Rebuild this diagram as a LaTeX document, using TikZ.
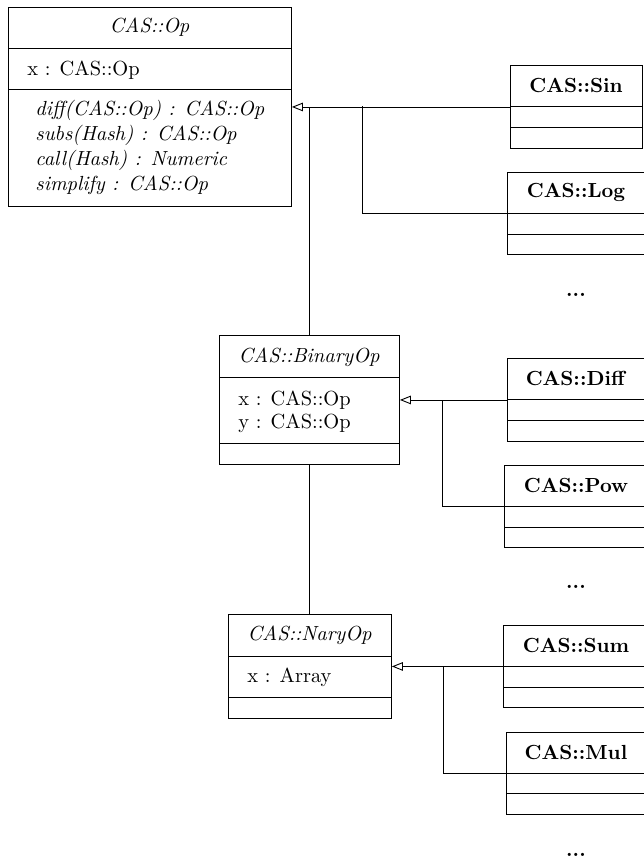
\documentclass[tikz,border=0pt]{standalone}
\usetikzlibrary{arrows.meta}
\newdimen\px \px=0.49pt
\begin{document}
\begin{tikzpicture}[x=0.49pt,y=-0.49pt,
  box/.style={draw, rectangle, anchor=north west, inner sep=0pt, line width=0.45pt},
  sepline/.style={line width=0.45pt},
  txt/.style={inner sep=0pt, anchor=west},
  ctxt/.style={inner sep=0pt},
  inh/.style={line width=0.45pt, -{Triangle[open,length=5.4pt,width=4.2pt]}},
  conn/.style={line width=0.45pt}]
\useasboundingbox (0,0) rectangle (643,862);

% ---- CAS::Op
\node[box, minimum width=283\px, minimum height=199\px] (op) at (8,7) {};
\draw[sepline] (8,48) -- (291,48);
\draw[sepline] (8,89) -- (291,89);
\node[ctxt] (opt) at (149.5,27) {\textit{CAS::Op}};
\node[txt] (opa) at (27,70) {x : CAS::Op};
\node[txt] (opm1) at (35,110) {\textit{diff(CAS::Op) : CAS::Op}};
\node[txt] (opm2) at (35,135) {\textit{subs(Hash) : CAS::Op}};
\node[txt] (opm3) at (35,160) {\textit{call(Hash) : Numeric}};
\node[txt] (opm4) at (35,185) {\textit{simplify : CAS::Op}};

% ---- CAS::BinaryOp
\node[box, minimum width=180\px, minimum height=129\px] (bin) at (219,335) {};
\draw[sepline] (219,377) -- (399,377);
\draw[sepline] (219,443) -- (399,443);
\node[ctxt] (bint) at (309,357) {\textit{CAS::BinaryOp}};
\node[txt] (bina1) at (238,400) {x : CAS::Op};
\node[txt] (bina2) at (238,423) {y : CAS::Op};

% ---- CAS::NaryOp
\node[box, minimum width=163\px, minimum height=104\px] (nary) at (228,614) {};
\draw[sepline] (228,656) -- (391,656);
\draw[sepline] (228,697) -- (391,697);
\node[ctxt] (naryt) at (309.5,635) {\textit{CAS::NaryOp}};
\node[txt] (narya) at (247,677) {x : Array};

% ---- right-hand classes
% Sin
\node[box, minimum width=132\px, minimum height=83\px] (sin) at (510,65) {};
\draw[sepline] (510,106) -- (642,106);
\draw[sepline] (510,127) -- (642,127);
\node[ctxt] (sint) at (576,85.5) {\textbf{CAS::Sin}};
% Log
\node[box, minimum width=138\px, minimum height=82\px] (log) at (507,172) {};
\draw[sepline] (507,213) -- (645,213);
\draw[sepline] (507,234) -- (645,234);
\node[ctxt] (logt) at (576,192.5) {\textbf{CAS::Log}};
% Diff
\node[box, minimum width=138\px, minimum height=83\px] (diff) at (507,358) {};
\draw[sepline] (507,399) -- (645,399);
\draw[sepline] (507,420) -- (645,420);
\node[ctxt] (difft) at (576,378.5) {\textbf{CAS::Diff}};
% Pow
\node[box, minimum width=144\px, minimum height=82\px] (pow) at (504,465) {};
\draw[sepline] (504,506) -- (648,506);
\draw[sepline] (504,527) -- (648,527);
\node[ctxt] (powt) at (576,485.5) {\textbf{CAS::Pow}};
% Sum
\node[box, minimum width=146\px, minimum height=82\px] (sum) at (503,625) {};
\draw[sepline] (503,666) -- (649,666);
\draw[sepline] (503,687) -- (649,687);
\node[ctxt] (sumt) at (576,645.5) {\textbf{CAS::Sum}};
% Mul
\node[box, minimum width=140\px, minimum height=82\px] (mul) at (506,732) {};
\draw[sepline] (506,773) -- (646,773);
\draw[sepline] (506,793) -- (646,793);
\node[ctxt] (mult) at (576,752.5) {\textbf{CAS::Mul}};

% ellipses
\node[ctxt] (dots1) at (576,295) {\textbf{...}};
\node[ctxt] (dots2) at (576,587) {\textbf{...}};
\node[ctxt] (dots3) at (576,855) {\textbf{...}};

% ---- connectors
\coordinate (j1) at (362,106);
\coordinate (j2) at (442,399.5);
\coordinate (j3) at (443,666);

\draw[inh] (sin.west) -- (op.east |- sin.west);
\draw[conn] (log.west) -| (j1);
\draw[conn] (bin.north) -- (bin.north |- sin.west);

\draw[inh] (diff.west) -- (bin.east |- diff.west);
\draw[conn] (pow.west) -| (j2);
\draw[conn] (bin.south) -- (bin.south |- nary.north);

\draw[inh] (sum.west) -- (nary.east |- sum.west);
\draw[conn] (mul.west) -| (j3);
\end{tikzpicture}
\end{document}
